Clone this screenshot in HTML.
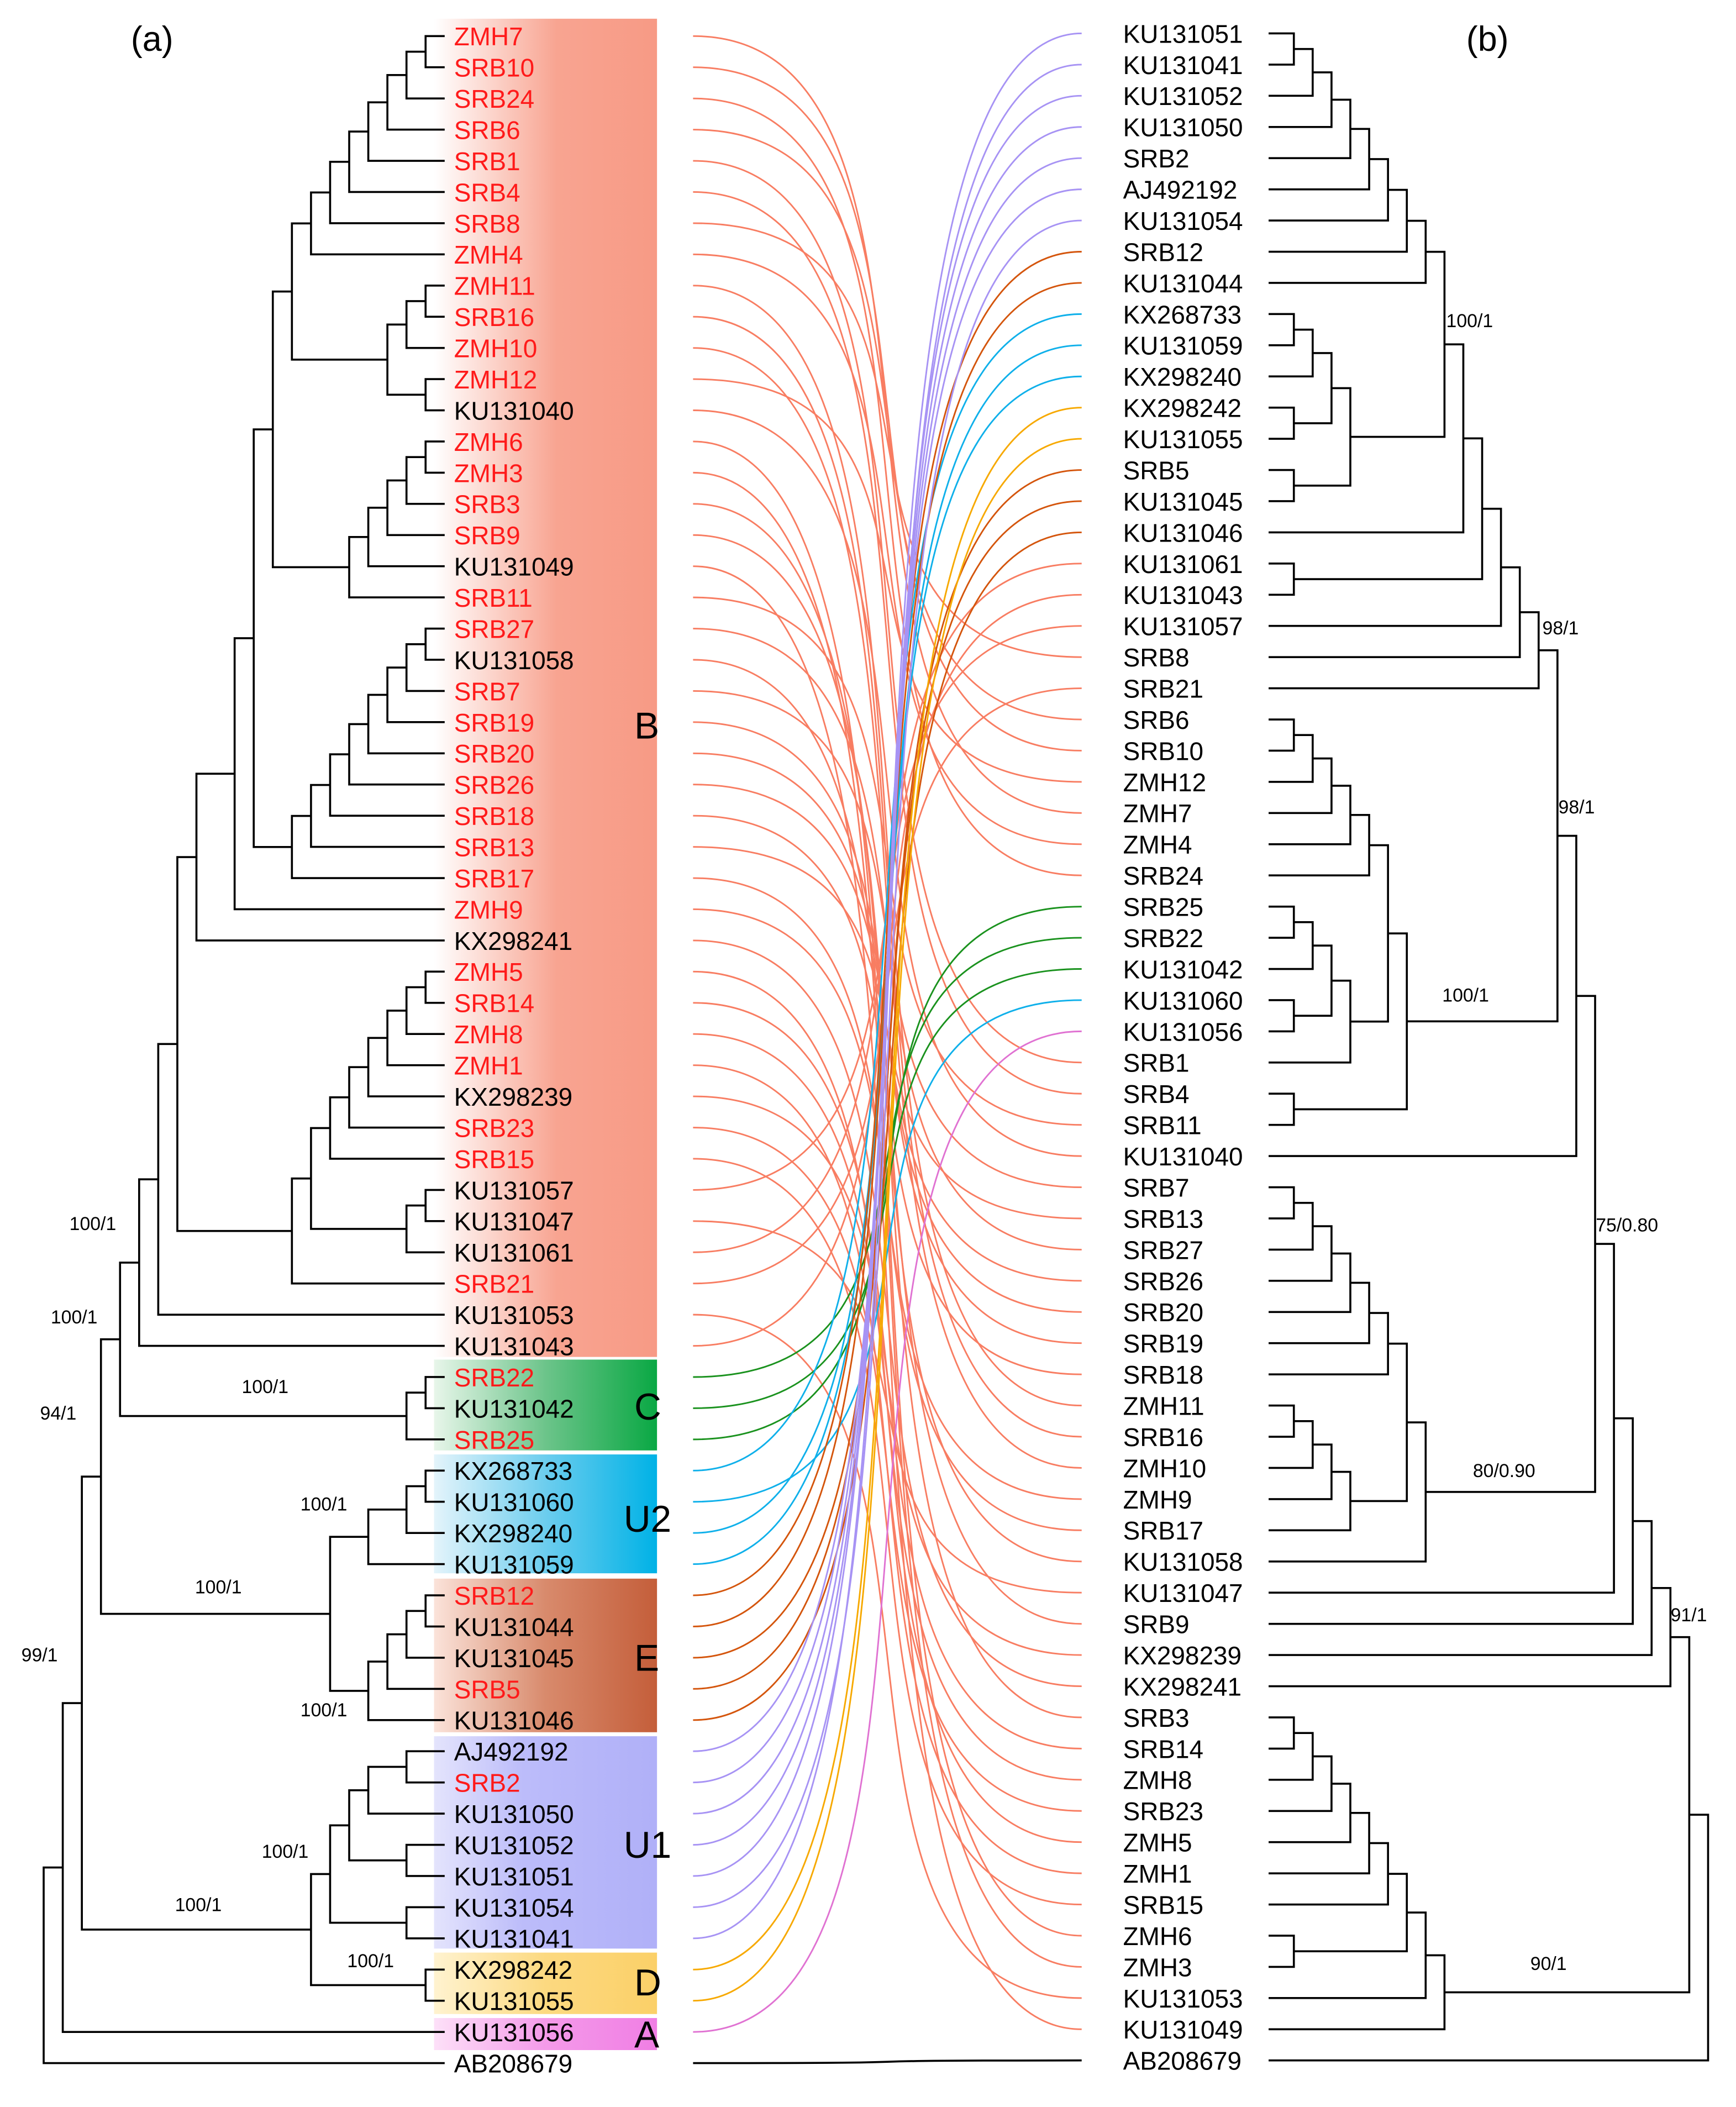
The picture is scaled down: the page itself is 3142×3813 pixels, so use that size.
<!DOCTYPE html>
<html><head><meta charset="utf-8"><title>Tanglegram</title>
<style>
html,body{margin:0;padding:0;background:#fff;}
svg{display:block;}
text{font-family:"Liberation Sans",Arial,sans-serif;}
</style></head>
<body>
<svg id="chart" xmlns="http://www.w3.org/2000/svg" width="3142" height="3813" viewBox="0 0 1300 1577.6">
<defs>
<linearGradient id="gB" x1="0" x2="1" y1="0" y2="0"><stop offset="0" stop-color="#ffffff"/><stop offset="0.55" stop-color="#f8a491"/><stop offset="1" stop-color="#f79a85"/></linearGradient>
<linearGradient id="gC" x1="0" x2="1" y1="0" y2="0"><stop offset="0" stop-color="#e8f6ea"/><stop offset="0.5" stop-color="#6cc48a"/><stop offset="1" stop-color="#0aa844"/></linearGradient>
<linearGradient id="gU2" x1="0" x2="1" y1="0" y2="0"><stop offset="0" stop-color="#e4f4fb"/><stop offset="0.5" stop-color="#6ccdee"/><stop offset="1" stop-color="#00b2e6"/></linearGradient>
<linearGradient id="gE" x1="0" x2="1" y1="0" y2="0"><stop offset="0" stop-color="#fbe3da"/><stop offset="0.5" stop-color="#d88a6c"/><stop offset="1" stop-color="#c45e3a"/></linearGradient>
<linearGradient id="gU1" x1="0" x2="1" y1="0" y2="0"><stop offset="0" stop-color="#e4e4fc"/><stop offset="0.4" stop-color="#bcbcfa"/><stop offset="1" stop-color="#b0b0f8"/></linearGradient>
<linearGradient id="gD" x1="0" x2="1" y1="0" y2="0"><stop offset="0" stop-color="#fff3d0"/><stop offset="0.5" stop-color="#fcd980"/><stop offset="1" stop-color="#fbd068"/></linearGradient>
<linearGradient id="gA" x1="0" x2="1" y1="0" y2="0"><stop offset="0" stop-color="#fde0f8"/><stop offset="0.5" stop-color="#f49ae9"/><stop offset="1" stop-color="#f07ee4"/></linearGradient>
</defs>
<g id="boxes"></g>
<g id="tangle"></g>
<g id="ltree"></g>
<g id="rtree"></g>
<g id="labels"></g>
</svg>
<script>
// ---- data: tree topologies ([level, childA, childB], leaves are names) ----
const leftTree = [21,[20,[19,[18,[17,[16,[15,[14,[13,[11,[10,[9,[8,
  [7,[6,[5,[4,[3,[2,[1,'ZMH7','SRB10'],'SRB24'],'SRB6'],'SRB1'],'SRB4'],'SRB8'],'ZMH4'],
  [3,[2,[1,'ZMH11','SRB16'],'ZMH10'],[1,'ZMH12','KU131040']]],
  [5,[4,[3,[2,[1,'ZMH6','ZMH3'],'SRB3'],'SRB9'],'KU131049'],'SRB11']],
  [8,[7,[6,[5,[4,[3,[2,[1,'SRB27','KU131058'],'SRB7'],'SRB19'],'SRB20'],'SRB26'],'SRB18'],'SRB13'],'SRB17']],
  'ZMH9'],'KX298241'],
  [8,[7,[6,[5,[4,[3,[2,[1,'ZMH5','SRB14'],'ZMH8'],'ZMH1'],'KX298239'],'SRB23'],'SRB15'],[2,[1,'KU131057','KU131047'],'KU131061']],'SRB21']],
  'KU131053'],'KU131043'],
  [2,[1,'SRB22','KU131042'],'SRB25']],
  [6,[4,[2,[1,'KX268733','KU131060'],'KX298240'],'KU131059'],[4,[3,[2,[1,'SRB12','KU131044'],'KU131045'],'SRB5'],'KU131046']]],
  [7,[6,[5,[4,[2,'AJ492192','SRB2'],'KU131050'],[2,'KU131052','KU131051']],[2,'KU131054','KU131041']],[1,'KX298242','KU131055']]],
  'KU131056'],'AB208679'];

const rightTree = [23,[22,[21,[20,[19,[18,[17,[16,[15,[14,[13,[12,[11,[10,[9,
  [8,[7,[6,[5,[4,[3,[2,[1,'KU131051','KU131041'],'KU131052'],'KU131050'],'SRB2'],'AJ492192'],'KU131054'],'SRB12'],'KU131044'],
  [4,[3,[2,[1,'KX268733','KU131059'],'KX298240'],[1,'KX298242','KU131055']],[1,'SRB5','KU131045']]],
  'KU131046'],[1,'KU131061','KU131043']],'KU131057'],'SRB8'],'SRB21'],
  [7,[6,[5,[4,[3,[2,[1,'SRB6','SRB10'],'ZMH12'],'ZMH7'],'ZMH4'],'SRB24'],[4,[3,[2,[1,'SRB25','SRB22'],'KU131042'],[1,'KU131060','KU131056']],'SRB1']],[1,'SRB4','SRB11']]],
  'KU131040'],
  [8,[7,[6,[5,[4,[3,[2,[1,'SRB7','SRB13'],'SRB27'],'SRB26'],'SRB20'],'SRB19'],'SRB18'],[4,[3,[2,[1,'ZMH11','SRB16'],'ZMH10'],'ZMH9'],'SRB17']],'KU131058']],
  'KU131047'],'SRB9'],'KX298239'],'KX298241'],
  [9,[8,[7,[6,[5,[4,[3,[2,[1,'SRB3','SRB14'],'ZMH8'],'SRB23'],'ZMH5'],'ZMH1'],'SRB15'],[1,'ZMH6','ZMH3']],'KU131053'],'KU131049']],
  'AB208679'];

const cladeNames = ['B','C','U2','E','U1','D','A'];
const cladeFirst = ['ZMH7','SRB22','KX268733','SRB12','AJ492192','KX298242','KU131056'];
const cladeLast  = ['KU131043','SRB25','KU131059','KU131046','KU131041','KU131055','KU131056'];
const cladeLine  = ['#f87d62','#1a921e','#0fb0ea','#d4550c','#a793f4','#f7a900','#e072d2'];
const cladeFill  = ['url(#gB)','url(#gC)','url(#gU2)','url(#gE)','url(#gU1)','url(#gD)','url(#gA)'];

const leftSupport = [['100/1',52,916],['100/1',38,986],['94/1',30,1058],['99/1',16,1239],['100/1',181,1038],['100/1',225,1126],['100/1',146,1188],['100/1',225,1280],['100/1',196,1386],['100/1',131,1426],['100/1',260,1468]];
const rightSupport = [['100/1',1083,240],['98/1',1155,470],['98/1',1167,604],['100/1',1080,745],['75/0.80',1195,917],['80/0.90',1103,1101],['91/1',1251,1209],['90/1',1146,1470]];

// ---- layout ----
const NS='http://www.w3.org/2000/svg';
const L_TOP=27, R_TOP=25, STEP=23.35;
const L_TIP=333, L_LEV=14.3, R_TIP=950, R_BASE=954.8, R_LEV=14.1;
function mk(tag, attrs, parent){const e=document.createElementNS(NS,tag);for(const k in attrs)e.setAttribute(k,attrs[k]);parent.appendChild(e);return e;}
function leaves(t,out){if(typeof t==='string'){out.push(t);}else{leaves(t[1],out);leaves(t[2],out);}return out;}
const leftOrder=leaves(leftTree,[]), rightOrder=leaves(rightTree,[]);
const leftY={}, rightY={};
leftOrder.forEach((n,i)=>leftY[n]=L_TOP+i*STEP);
rightOrder.forEach((n,i)=>rightY[n]=R_TOP+i*STEP);

function drawTree(t, side, g){
  if(typeof t==='string'){
    return side==='L'?[L_TIP,leftY[t]]:[R_TIP,rightY[t]];
  }
  const x = side==='L'? L_TIP - L_LEV*t[0] : R_BASE + R_LEV*t[0];
  const a=drawTree(t[1],side,g), b=drawTree(t[2],side,g);
  const y=(a[1]+b[1])/2;
  const p=mk('path',{d:`M${a[0]},${a[1]}H${x}V${b[1]}H${b[0]}`,fill:'none',stroke:'#000','stroke-width':1.5},g);
  
  
  return [x,y];
}
const ltree=document.getElementById('ltree'), rtree=document.getElementById('rtree');




drawTree(leftTree,'L',ltree);
drawTree(rightTree,'R',rtree);

const cladeOf={};
cladeNames.forEach((c,i)=>{
  const s=leftOrder.indexOf(cladeFirst[i]), e=leftOrder.indexOf(cladeLast[i]);
  for(let k=s;k<=e;k++)cladeOf[leftOrder[k]]=i;
});

const boxes=document.getElementById('boxes');
const boxTop=[14,1018,1089,1182,1300,1462,1511], boxBot=[1016,1086,1178,1297,1459,1508,1535];
const boxLabelY=[543,1053,1137,1241,1381,1484,1523];
cladeNames.forEach((c,i)=>{
  const r=mk('rect',{x:325,y:boxTop[i],width:167,height:boxBot[i]-boxTop[i],fill:cladeFill[i]},boxes);
  
  
  const t=mk('text',{x:c.length>1?467:475,y:boxLabelY[i]+10,'font-size':28,fill:'#000'},boxes);
  t.textContent=c;
  
  
});

const tg=document.getElementById('tangle');
const X1=519, X2=810, K=(X2-X1)*0.8;
leftOrder.forEach(n=>{
  const y1=leftY[n], y2=rightY[n];
  let col='#000';
  if(cladeOf[n]!==undefined) col=cladeLine[cladeOf[n]];
  const p=mk('path',{d:`M${X1},${y1}C${X1+K},${y1} ${X2-K},${y2} ${X2},${y2}`,fill:'none',stroke:col,'stroke-width':n==='AB208679'?1.5:1.2},tg);
  
  
});

const lab=document.getElementById('labels');
leftOrder.forEach(n=>{
  const t=mk('text',{x:340,y:leftY[n]+7,'font-size':19,fill:/^(SRB|ZMH)/.test(n)?'#ff1a1a':'#000'},lab);
  t.textContent=n;
  
  
});
rightOrder.forEach(n=>{
  const t=mk('text',{x:841,y:rightY[n]+7,'font-size':19,fill:'#000'},lab);
  t.textContent=n;
  
  
});
leftSupport.concat(rightSupport).forEach(s=>{
  const t=mk('text',{x:s[1],y:s[2]+5,'font-size':14,fill:'#000'},lab);
  t.textContent=s[0];
  
  
});
const pa=mk('text',{x:98,y:38,'font-size':26,fill:'#000'},lab);
pa.textContent='(a)';


const pb=mk('text',{x:1098,y:38,'font-size':26,fill:'#000'},lab);
pb.textContent='(b)';


</script>
</body></html>
